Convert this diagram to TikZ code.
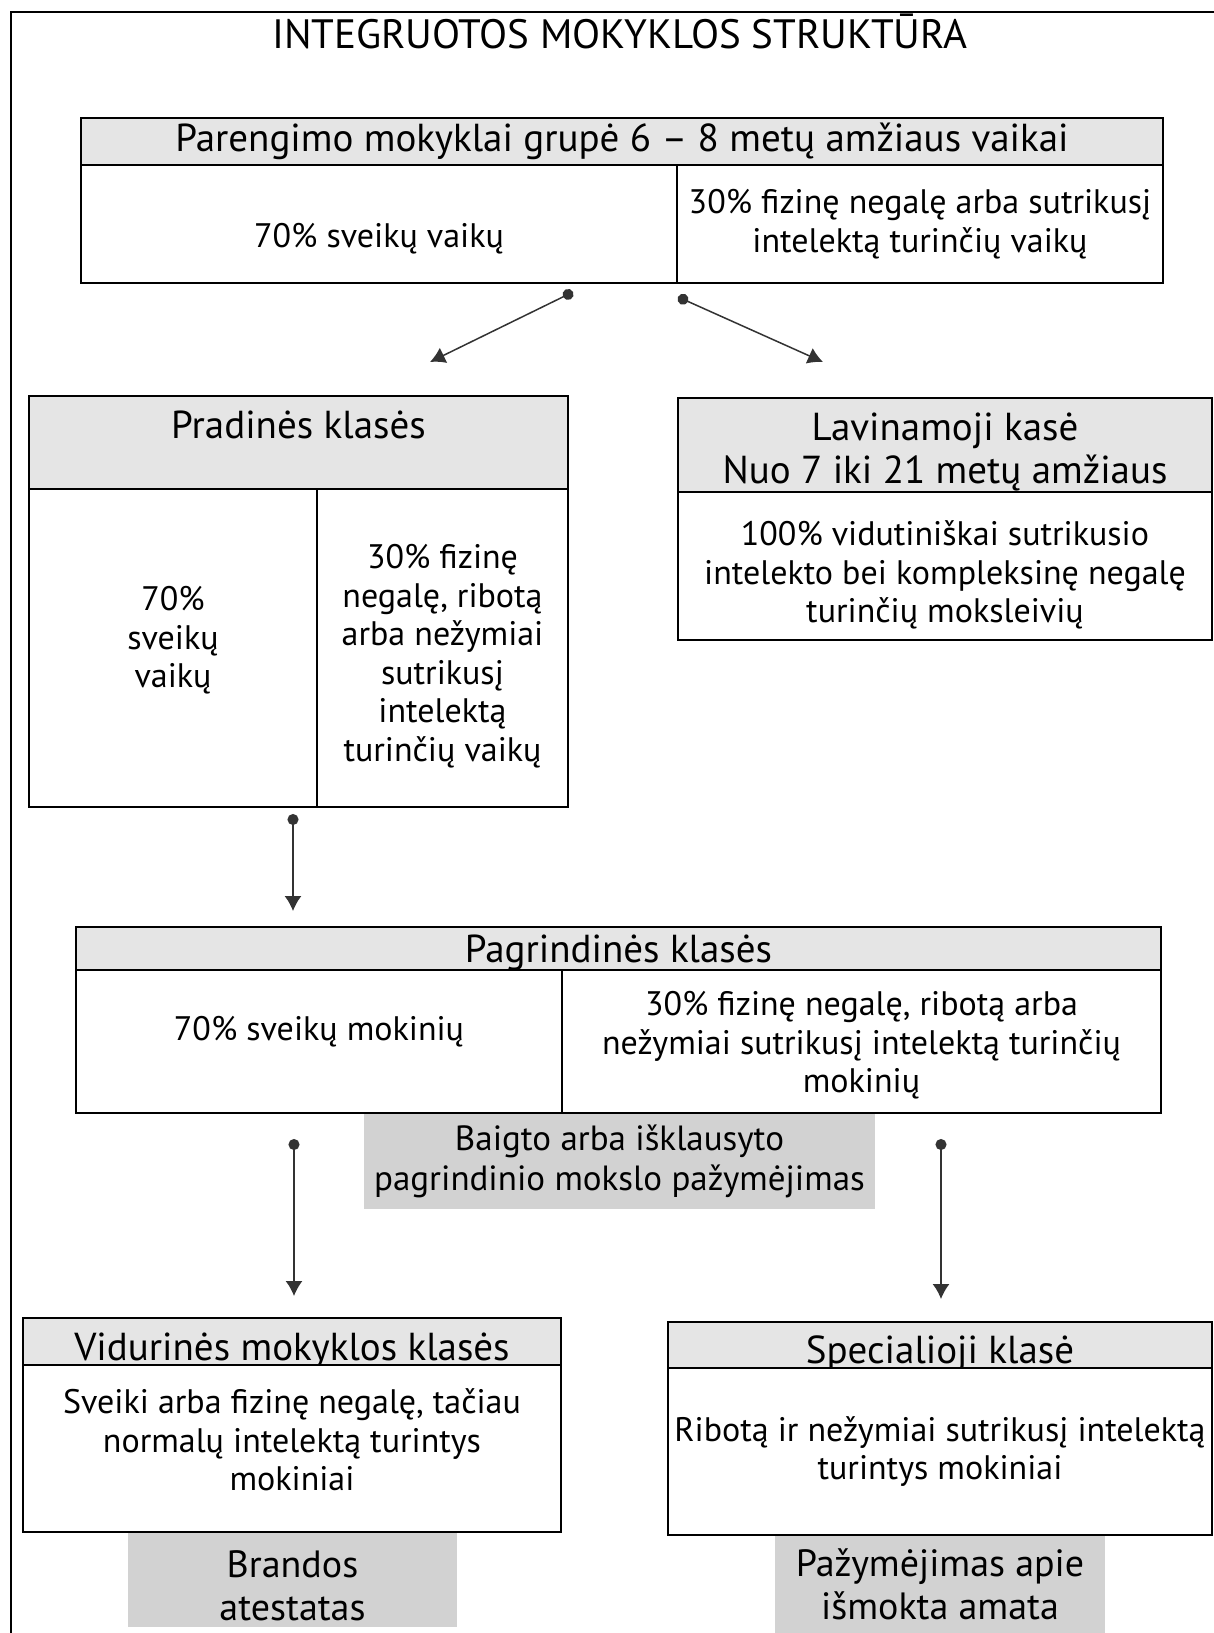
\documentclass[tikz,border=0pt]{standalone}
\usepackage{fontspec}
\setmainfont{PT Sans}
\usetikzlibrary{arrows.meta,positioning}

\tikzset{
  box/.style={draw, line width=2pt, outer sep=0pt, inner sep=0pt, align=center,
    anchor=north west, font=\fontsize{34}{38.5}\selectfont},
  hdr/.style={box, fill=gray!20, font=\fontsize{39}{43}\selectfont},
  cell/.style={box, fill=white},
  cert/.style={box, draw=none, fill=gray!35},
  link/.style={arrows={Circle[length=11pt]-Latex[length=15pt,width=17pt]}, line width=1.5pt, draw=black!80},
}

\begin{document}
\begin{tikzpicture}[x=1pt,y=-1pt]
	\useasboundingbox (0,0) rectangle (1214,1633);
	% frame
	\draw[line width=2.5pt] (11,1633) -- (11,12) -- (1214,12);
	\node[font=\fontsize{41}{45}\selectfont] (title) at (620,31) {INTEGRUOTOS MOKYKLOS STRUKTŪRA};

	% parengimo grupe
	\node[hdr, minimum width=1082pt, minimum height=47pt] (hdrA) at (81,118) {Parengimo mokyklai grupė 6 -- 8 metų amžiaus vaikai};
	\node[cell, minimum width=596pt, minimum height=118pt] (cellAl) [below right=0pt and 0pt of hdrA.south west] {\strut\\[-12pt]70\% sveikų vaikų};
	\node[cell, minimum width=486pt, minimum height=118pt] (cellAr) [right=0pt of cellAl] {30\% fizinę negalę arba sutrikusį\\intelektą turinčių vaikų};

	% pradines klases
	\node[hdr, minimum width=539pt, minimum height=93pt] (hdrB) at (29,396) {Pradinės klasės\\[-8pt]~};
	\node[cell, minimum width=288pt, minimum height=318pt] (cellBl) [below right=0pt and 0pt of hdrB.south west] {70\%\\sveikų\\vaikų\\[-17pt]~};
	\node[cell, minimum width=251pt, minimum height=318pt] (cellBr) [right=0pt of cellBl] {\strut\\[-25pt]30\% fizinę\\negalę, ribotą\\arba nežymiai\\sutrikusį\\intelektą\\turinčių vaikų};

	% lavinamoji klase
	\node[hdr, minimum width=534pt, minimum height=94pt, text height=85.5pt, text depth=8pt] (hdrC) at (678,398) {Lavinamoji kasė\\Nuo 7 iki 21 metų amžiaus};
	\node[cell, minimum width=534pt, minimum height=148pt] (cellC) [below right=0pt and 0pt of hdrC.south west] {\strut\\[-22.5pt]100\% vidutiniškai sutrikusio\\intelekto bei kompleksinę negalę\\turinčių moksleivių};

	% pagrindines klases
	\node[cert, minimum width=511pt, minimum height=96pt, font=\fontsize{35}{40}\selectfont] (certD) at (364,1113) {Baigto arba išklausyto\\pagrindinio mokslo pažymėjimas};
	\node[hdr, minimum width=1085pt, minimum height=43pt, text height=34.25pt, text depth=5.75pt] (hdrD) at (76,927) {Pagrindinės klasės};
	\node[cell, minimum width=486pt, minimum height=143pt] (cellDl) [below right=0pt and 0pt of hdrD.south west] {70\% sveikų mokinių\\[-12pt]~};
	\node[cell, minimum width=599pt, minimum height=143pt] (cellDr) [right=0pt of cellDl] {\strut\\[-33pt]30\% fizinę negalę, ribotą arba\\nežymiai sutrikusį intelektą turinčių\\mokinių};

	% viduriniai
	\node[cert, minimum width=329pt, minimum height=95pt, font=\fontsize{38}{43}\selectfont, text height=86.9pt, text depth=5.1pt] (certF) at (128,1532) {Brandos\\atestatas};
	\node[hdr, minimum width=538pt, minimum height=47pt, text height=40.25pt, text depth=1.75pt] (hdrF) at (23,1318) {Vidurinės mokyklos klasės};
	\node[cell, minimum width=538pt, minimum height=167pt] (cellF) [below right=0pt and 0pt of hdrF.south west] {Sveiki arba fizinę negalę, tačiau\\normalų intelektą turintys\\mokiniai\\[-21pt]~};

	% specialioji
	\node[cert, minimum width=330pt, minimum height=98pt, font=\fontsize{38}{43}\selectfont] (certH) at (775,1535) {Pažymėjimas apie\\išmokta amata};
	\node[hdr, minimum width=544pt, minimum height=46pt, text height=39.75pt, text depth=2.25pt] (hdrH) at (668,1322) {Specialioji klasė};
	\node[cell, minimum width=544pt, minimum height=167pt] (cellH) [below right=0pt and 0pt of hdrH.south west] {Ribotą ir nežymiai sutrikusį intelektą\\turintys mokiniai};

	% rodykles
	\coordinate (a1s) at (573,292);
	\coordinate (a1e) at (430,362);
	\coordinate (a2s) at (678,297);
	\coordinate (a2e) at (823,362);
	\coordinate (a3s) at (293,814);
	\coordinate (a3e) at (293,911);
	\coordinate (a4s) at (294,1139);
	\coordinate (a4e) at (294,1296);
	\coordinate (a5s) at (941,1139);
	\coordinate (a5e) at (941,1299);

	\draw[link] (a1s) -- (a1e);
	\draw[link] (a2s) -- (a2e);
	\draw[link] (a3s) -- (a3e);
	\draw[link] (a4s) -- (a4e);
	\draw[link] (a5s) -- (a5e);
\end{tikzpicture}
\end{document}
